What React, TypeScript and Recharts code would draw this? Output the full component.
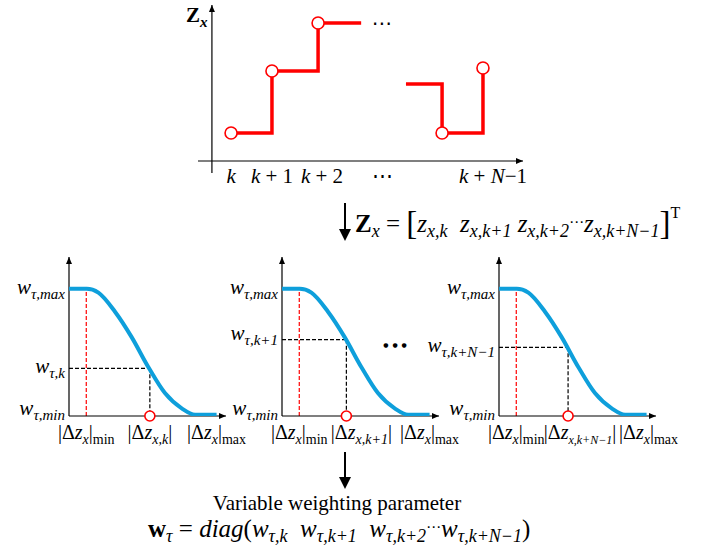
import { LineChart, Line, XAxis, YAxis, ReferenceLine, ReferenceDot } from "recharts";

const SERIF = '"Liberation Serif", "Times New Roman", serif';
const RED = "#FF0000";
const BLUE = "#0E9FDB";

// top: Z_x step plot over the horizon k ... k+N-1
const stepTicks = [0, 0.94, 2.09, 3.47, 6.02];
const stepTickLabels = ["k", "k + 1", "k + 2", "⋯", "k + N−1"];
const headK = [0, 0.94, 2.0, 2.99];
const headZ = [2.33, 7.5, 11.5, 11.5];
const headSampled = [true, true, true, false];
const tailK = [4.02, 4.85, 5.79];
const tailZ = [6.42, 2.33, 7.75];
const tailSampled = [false, true, true];

// weighting curve w(|dz|), same in all three lower panels
const curveDz = [0, 1.13, 1.87, 2.93, 3.99, 5.05, 6.11, 7.18, 8.03, 9.4];
const curveW = [1, 1, 0.97, 0.82, 0.62, 0.385, 0.18, 0.06, 0.01, 0.01];
const dzMin = 1.1;
const dzMax = 9.4;
const wMin = 0;
const wMax = 1;

// one sample per panel
const panelSub = ["k", "k+1", "k+N−1"];
const panelDz = [5.15, 4.1, 4.4];
const panelW = [0.375, 0.6, 0.54];

const headRun = headK.map((k, i) => ({ k, z: headZ[i], sampled: headSampled[i] }));
const tailRun = tailK.map((k, i) => ({ k, z: tailZ[i], sampled: tailSampled[i] }));
const curve = curveDz.map((dz, i) => ({ dz, w: curveW[i] }));

const PANEL_LEFT = [69, 282, 499];
const SAMPLE_LABEL_SHIFT = [0, 15, 12];
const SAMPLE_SUB_SIZE = [14, 14, 12];
const MAX_LABEL_SHIFT = [0, 0, 2];
const SAMPLE_W_LABEL_SHIFT = [0, -5, 0];

const AxisArrow = (p: any) => {
  const { x1, y1, x2, y2 } = p;
  const a = Math.atan2(y2 - y1, x2 - x1);
  const bx = x2 - 7 * Math.cos(a);
  const by = y2 - 7 * Math.sin(a);
  const nx = -Math.sin(a) * 3;
  const ny = Math.cos(a) * 3;
  return (
    <g>
      <line x1={x1} y1={y1} x2={x2} y2={y2} stroke="#000" strokeWidth={1.2} />
      <polygon points={`${x2},${y2} ${bx + nx},${by + ny} ${bx - nx},${by - ny}`} fill="#000" />
    </g>
  );
};

const OpenDot = (p: any) =>
  p.payload && p.payload.sampled ? (
    <circle key={p.index} cx={p.cx} cy={p.cy} r={6} fill="#fff" stroke={RED} strokeWidth={1.6} />
  ) : (
    <g key={p.index} />
  );

const mathRuns = (s: string) =>
  s
    .split(/([A-Za-z]+)/)
    .filter(Boolean)
    .map((t, i) =>
      /[A-Za-z]/.test(t) ? (
        <tspan key={i} fontStyle="italic">{t}</tspan>
      ) : (
        <tspan key={i}>{t}</tspan>
      )
    );

const StepTick = (p: any) => {
  const label = stepTickLabels[stepTicks.indexOf(p.payload.value)];
  return (
    <text x={p.x} y={p.y + 10} textAnchor="middle" fontFamily={SERIF} fontSize={21} fill="#000">
      {mathRuns(label)}
    </text>
  );
};

const WTick = (p: any) => {
  const v = p.payload.value;
  const sub = v === wMax ? "τ,max" : v === wMin ? "τ,min" : `τ,${p.sub}`;
  const dy = v === wMin ? -1 : v === wMax ? 5 : 5 + p.shift;
  return (
    <text x={p.x - 4} y={p.y + dy} textAnchor="end" fontFamily={SERIF} fontSize={21} fill="#000">
      <tspan fontStyle="italic">w</tspan>
      <tspan fontSize={15} dy={5} fontStyle="italic">{sub}</tspan>
    </text>
  );
};

const DzTick = (p: any) => {
  const v = p.payload.value;
  const isSample = v !== dzMin && v !== dzMax;
  const inner = isSample ? `x,${p.sub}` : "x";
  const outer = v === dzMin ? "min" : v === dzMax ? "max" : null;
  const dx = isSample ? p.shift : v === dzMax ? p.maxShift : 0;
  return (
    <text x={p.x + dx} y={p.y + 23} textAnchor="middle" fontFamily={SERIF} fontSize={20} fill="#000">
      <tspan>|Δ</tspan>
      <tspan fontStyle="italic">z</tspan>
      <tspan fontSize={isSample ? p.subSize : 14} fontStyle="italic" dy={5}>{inner}</tspan>
      <tspan dy={-5}>|</tspan>
      {outer && <tspan fontSize={14} dy={5}>{outer}</tspan>}
    </text>
  );
};

const WeightPanel = ({ i }: { i: number }) => {
  const dz = panelDz[i];
  const w = panelW[i];
  const sub = panelSub[i];
  return (
    <div style={{ position: "absolute", left: PANEL_LEFT[i] - 80, top: 252 }}>
      <LineChart width={262} height={199} data={curve} margin={{ top: 5, right: 25, left: 0, bottom: 0 }}>
        <XAxis
          type="number"
          dataKey="dz"
          domain={[0, 10]}
          ticks={[dzMin, dz, dzMax]}
          interval={0}
          axisLine={false}
          tickLine={false}
          tickSize={0}
          tickMargin={0}
          height={35}
          allowDataOverflow
          tick={(p: any) => (
            <DzTick {...p} sub={sub} shift={SAMPLE_LABEL_SHIFT[i]} subSize={SAMPLE_SUB_SIZE[i]} maxShift={MAX_LABEL_SHIFT[i]} />
          )}
        />
        <YAxis
          type="number"
          domain={[0, 1.25]}
          ticks={[wMin, w, wMax]}
          interval={0}
          axisLine={false}
          tickLine={false}
          tickSize={0}
          tickMargin={0}
          width={80}
          allowDataOverflow
          tick={(p: any) => <WTick {...p} sub={sub} shift={SAMPLE_W_LABEL_SHIFT[i]} />}
        />
        <ReferenceLine segment={[{ x: dzMin, y: 0 }, { x: dzMin, y: wMax }]} stroke={RED} strokeWidth={1.2} strokeDasharray="4 2" ifOverflow="visible" />
        <ReferenceLine segment={[{ x: 0, y: w }, { x: dz, y: w }]} stroke="#000" strokeWidth={1.2} strokeDasharray="4 2" ifOverflow="visible" />
        <ReferenceLine segment={[{ x: dz, y: w }, { x: dz, y: 0 }]} stroke="#000" strokeWidth={1.2} strokeDasharray="4 2" ifOverflow="visible" />
        <ReferenceLine segment={[{ x: 0, y: 0 }, { x: 10, y: 0 }]} shape={AxisArrow} ifOverflow="visible" />
        <ReferenceLine segment={[{ x: 0, y: 0 }, { x: 0, y: 1.25 }]} shape={AxisArrow} ifOverflow="visible" />
        <Line dataKey="w" type="monotone" stroke={BLUE} strokeWidth={4} dot={false} isAnimationActive={false} />
        <ReferenceDot x={dz} y={0} r={5} fill="#fff" stroke={RED} strokeWidth={1.6} ifOverflow="visible" />
      </LineChart>
    </div>
  );
};

const Sub = ({ children, upright }: any) => (
  <span style={{ fontSize: "0.72em", position: "relative", top: "0.3em", fontStyle: upright ? "normal" : "italic" }}>
    {children}
  </span>
);

const Dots = () => (
  <span style={{ fontFamily: "DejaVu Sans", fontSize: 15, position: "relative", top: -5 }}>⋯</span>
);

const App = () => (
  <div style={{ position: "absolute", left: 0, top: 0, width: 709, height: 550, background: "#fff", fontFamily: SERIF, color: "#000" }}>
    <div style={{ position: "absolute", left: 198, top: 0 }}>
      <LineChart width={335} height={203} margin={{ top: 5, right: 10, left: 0, bottom: 0 }}>
        <XAxis
          type="number"
          dataKey="k"
          domain={[-0.76, 6.71]}
          ticks={stepTicks}
          interval={0}
          axisLine={false}
          tickLine={false}
          tickSize={0}
          tickMargin={0}
          height={30}
          allowDataOverflow
          tick={StepTick}
        />
        <YAxis type="number" domain={[-1, 13]} allowDataOverflow hide />
        <ReferenceLine segment={[{ x: -0.76, y: 0 }, { x: 6.71, y: 0 }]} shape={AxisArrow} ifOverflow="visible" />
        <ReferenceLine segment={[{ x: -0.44, y: -1 }, { x: -0.44, y: 13 }]} shape={AxisArrow} ifOverflow="visible" />
        <Line data={headRun} dataKey="z" type="stepAfter" stroke={RED} strokeWidth={3.5} dot={OpenDot} isAnimationActive={false} />
        <Line data={tailRun} dataKey="z" type="stepAfter" stroke={RED} strokeWidth={3.5} dot={OpenDot} isAnimationActive={false} />
      </LineChart>
    </div>

    <div style={{ position: "absolute", left: 186, top: 3, fontSize: 21, fontWeight: "bold", lineHeight: "24px" }}>
      Z<Sub>x</Sub>
    </div>
    <div style={{ position: "absolute", left: 382, top: 24, transform: "translate(-50%,-55%)", fontSize: 20, fontFamily: "DejaVu Sans" }}>⋯</div>

    <div style={{ position: "absolute", left: 355, top: 208, fontSize: 25, whiteSpace: "nowrap", lineHeight: "26px" }}>
      <b>Z</b>
      <Sub>x</Sub> = <span style={{ fontSize: 33, position: "relative", top: 2 }}>[</span>
      <i>z</i>
      <Sub>x,k</Sub>&nbsp; <i>z</i>
      <Sub>x,k+1</Sub> <i>z</i>
      <Sub>x,k+2</Sub>
      <Dots />
      <i>z</i>
      <Sub>x,k+N−1</Sub>
      <span style={{ fontSize: 33, position: "relative", top: 2 }}>]</span>
      <span style={{ fontSize: 16, position: "relative", top: -14 }}>T</span>
    </div>

    {[0, 1, 2].map((i) => (
      <WeightPanel key={i} i={i} />
    ))}
    <div style={{ position: "absolute", left: 397, top: 344, transform: "translate(-50%,-50%)", fontSize: 6, letterSpacing: 4, fontFamily: "DejaVu Sans" }}>●●●</div>

    <div style={{ position: "absolute", left: 0, width: 674, top: 491, fontSize: 21, lineHeight: "24px", textAlign: "center" }}>
      Variable weighting parameter
    </div>
    <div style={{ position: "absolute", left: 148, top: 516, fontSize: 25, whiteSpace: "nowrap", lineHeight: "26px" }}>
      <b>w</b>
      <Sub>τ</Sub> = <i>diag</i>(<i>w</i>
      <Sub>τ,k</Sub>&nbsp; <i>w</i>
      <Sub>τ,k+1</Sub>&nbsp; <i>w</i>
      <Sub>τ,k+2</Sub>
      <Dots />
      <i>w</i>
      <Sub>τ,k+N−1</Sub>)
    </div>

    <svg width={709} height={550} style={{ position: "absolute", left: 0, top: 0, pointerEvents: "none" }}>
      <line x1={345} y1={203} x2={345} y2={231} stroke="#000" strokeWidth={2} />
      <polygon points="339,229 351,229 345,241" fill="#000" />
      <line x1={345} y1={452} x2={345} y2={479} stroke="#000" strokeWidth={2} />
      <polygon points="339,477 351,477 345,489" fill="#000" />
    </svg>
  </div>
);

export default App;
